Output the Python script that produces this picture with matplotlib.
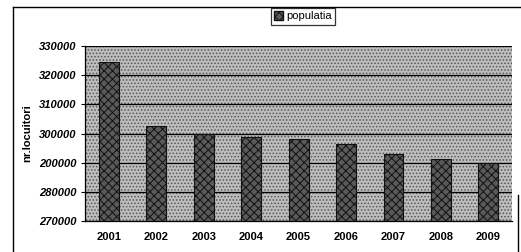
import numpy as np
import matplotlib
matplotlib.use('Agg')
import matplotlib.pyplot as plt
from matplotlib.lines import Line2D
from matplotlib.patches import Patch

# data
ani = ['2001', '2002', '2003', '2004', '2005', '2006', '2007', '2008', '2009']
populatia = [324500, 302600, 299900, 298800, 298000, 296400, 293000, 291200, 290000]
y_ticks = [270000, 280000, 290000, 300000, 310000, 320000, 330000]
y_tick_labels = ['270000', '280000', '200000', '300000', '310000', '320000', '330000']

plt.rcParams['font.family'] = ['Liberation Sans', 'DejaVu Sans']
plt.rcParams['hatch.linewidth'] = 0.7

fig = plt.figure(figsize=(5.21, 2.52), dpi=100)
ax = fig.add_axes([0.163, 0.123, 0.82, 0.694])

# stippled grey background
ax.set_facecolor('#bdbdbd')
x = np.arange(len(ani))
ax.bar(x, [1] * len(ani), width=1.0, bottom=0,
       transform=ax.get_xaxis_transform(), color='none',
       edgecolor='#555555', hatch='.....', linewidth=0, zorder=0)

ax.yaxis.grid(True, color='black', linewidth=0.9, zorder=1)
ax.set_axisbelow(True)

ax.bar(x, [v - 270000 for v in populatia], bottom=270000, width=0.42,
       color='#5a5a5a', edgecolor='#111111', hatch='xxxx', linewidth=0.8,
       zorder=3)

ax.set_xlim(-0.5, len(ani) - 0.5)
ax.set_ylim(270000, 330000)
ax.set_yticks(y_ticks)
ax.set_yticklabels(y_tick_labels, fontsize=8, fontweight='bold', style='italic')
ax.set_xticks(x)
ax.set_xticklabels(ani, fontsize=8, fontweight='bold')
ax.tick_params(axis='y', length=3, width=0.8, pad=3)
ax.tick_params(axis='x', length=3, width=0.8, pad=8, direction='in')

for s in ['top', 'right']:
    ax.spines[s].set_visible(False)
ax.spines['left'].set_linewidth(0.9)
ax.spines['bottom'].set_linewidth(0.9)

ax.set_ylabel('nr.locuitori', fontsize=8, fontweight='bold', labelpad=5)

leg = fig.legend(handles=[Patch(facecolor='#5a5a5a', edgecolor='#111111', hatch='xxxx')],
                 labels=['populatia'], loc='center', bbox_to_anchor=(0.582, 0.935),
                 fontsize=8, frameon=True, fancybox=False, handlelength=0.8,
                 handleheight=0.8, handletextpad=0.3, borderpad=0.3)
leg.get_frame().set_edgecolor('black')
leg.get_frame().set_linewidth(0.9)

# outer frame of the scanned chart
fw, fh = 521, 252
fig.add_artist(Line2D([13 / fw, 13 / fw], [0, 1 - 7 / fh], color='black', linewidth=1.0))
fig.add_artist(Line2D([13 / fw, 1], [1 - 7 / fh, 1 - 7 / fh], color='black', linewidth=1.0))
fig.add_artist(Line2D([518 / fw, 518 / fw], [0, 1 - 195 / fh], color='black', linewidth=1.0))

fig.savefig('out.png', dpi=100)
